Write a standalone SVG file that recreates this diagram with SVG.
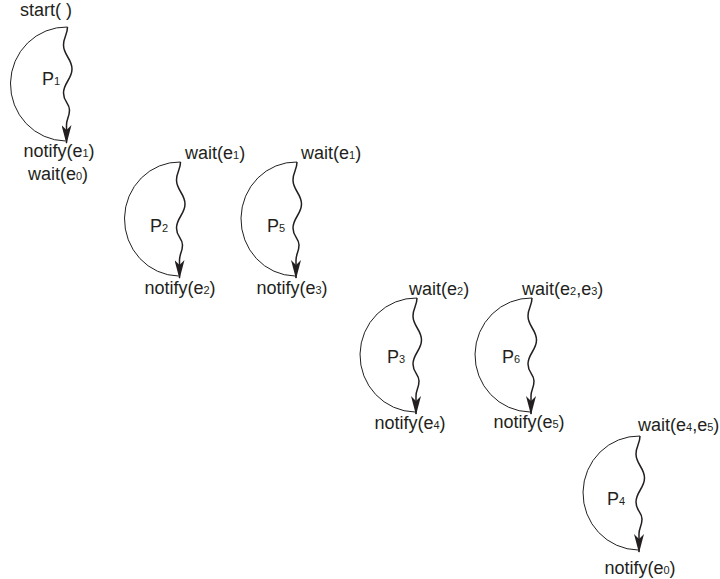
<svg xmlns="http://www.w3.org/2000/svg" width="720" height="579" viewBox="0 0 720 579">
<style>
text { font-family: "Liberation Sans", Arial, sans-serif; font-size: 18px; fill: #231f20; }
.s { font-size: 11px; }
.m { text-anchor: middle; }
.arc { fill: none; stroke: #231f20; stroke-width: 1; }
.wave { fill: none; stroke: #231f20; stroke-width: 1.5; marker-end: url(#ah); }
</style>
<defs>
<marker id="ah" markerUnits="userSpaceOnUse" viewBox="0 0 19 10" refX="18" refY="5" markerWidth="19" markerHeight="10" orient="auto">
<path d="M0,0 L19,5 L0,10 L5,5 Z" fill="#231f20"/>
</marker>
</defs>
<rect width="720" height="579" fill="#ffffff"/>
<text x="46" y="16" class="m">start( )</text>
<g id="P1">
<path class="arc" d="M67.5,27 A56,57 0 0 0 65.5,141"/>
<text x="42" y="85">P<tspan class="s">1</tspan></text>
<text x="59" y="157" class="m">notify(e<tspan class="s">1</tspan>)</text>
<text x="58" y="180" class="m">wait(e<tspan class="s">0</tspan>)</text>
</g>
<g id="P2">
<path class="arc" d="M180.5,162 A55,57 0 0 0 178.5,276"/>
<text x="150" y="232">P<tspan class="s">2</tspan></text>
<text x="185" y="159">wait(e<tspan class="s">1</tspan>)</text>
<text x="180" y="294" class="m">notify(e<tspan class="s">2</tspan>)</text>
</g>
<g id="P5">
<path class="arc" d="M297,162 A55,57 0 0 0 295,276"/>
<text x="267" y="232">P<tspan class="s">5</tspan></text>
<text x="301" y="159">wait(e<tspan class="s">1</tspan>)</text>
<text x="292" y="294" class="m">notify(e<tspan class="s">3</tspan>)</text>
</g>
<g id="P3">
<path class="arc" d="M417,298 A56,57 0 0 0 415,412"/>
<text x="387" y="363">P<tspan class="s">3</tspan></text>
<text x="409" y="295">wait(e<tspan class="s">2</tspan>)</text>
<text x="410" y="429" class="m">notify(e<tspan class="s">4</tspan>)</text>
</g>
<g id="P6">
<path class="arc" d="M532,298 A56,57 0 0 0 530,412"/>
<text x="502" y="363">P<tspan class="s">6</tspan></text>
<text x="522" y="295">wait(e<tspan class="s">2</tspan>,e<tspan class="s">3</tspan>)</text>
<text x="529" y="428" class="m">notify(e<tspan class="s">5</tspan>)</text>
</g>
<g id="P4">
<path class="arc" d="M640,436 A56,57 0 0 0 638,550"/>
<text x="607" y="505">P<tspan class="s">4</tspan></text>
<text x="638" y="431">wait(e<tspan class="s">4</tspan>,e<tspan class="s">5</tspan>)</text>
<text x="640" y="574" class="m">notify(e<tspan class="s">0</tspan>)</text>
</g>
<g id="connectors">
<path class="wave" transform="translate(67.5,27)" d="M0,0 C0,8 -4,10 -4,18 C-4,28 4.5,32 4.5,42 C4.5,52 -4,56 -4,66 C-4,75 2,76 2,83 C2,90 -1,92 -1,98 L-1,116"/>
<path class="wave" transform="translate(180.5,162)" d="M0,0 C0,8 -4,10 -4,18 C-4,28 4.5,32 4.5,42 C4.5,52 -4,56 -4,66 C-4,75 2,76 2,83 C2,90 -1,92 -1,98 L-1,116"/>
<path class="wave" transform="translate(297,162)" d="M0,0 C0,8 -4,10 -4,18 C-4,28 4.5,32 4.5,42 C4.5,52 -4,56 -4,66 C-4,75 2,76 2,83 C2,90 -1,92 -1,98 L-1,116"/>
<path class="wave" transform="translate(417,298)" d="M0,0 C0,8 -4,10 -4,18 C-4,28 4.5,32 4.5,42 C4.5,52 -4,56 -4,66 C-4,75 2,76 2,83 C2,90 -1,92 -1,98 L-1,116"/>
<path class="wave" transform="translate(532,298)" d="M0,0 C0,8 -4,10 -4,18 C-4,28 4.5,32 4.5,42 C4.5,52 -4,56 -4,66 C-4,75 2,76 2,83 C2,90 -1,92 -1,98 L-1,116"/>
<path class="wave" transform="translate(640,436)" d="M0,0 C0,8 -4,10 -4,18 C-4,28 4.5,32 4.5,42 C4.5,52 -4,56 -4,66 C-4,75 2,76 2,83 C2,90 -1,92 -1,98 L-1,116"/>
</g>
</svg>
